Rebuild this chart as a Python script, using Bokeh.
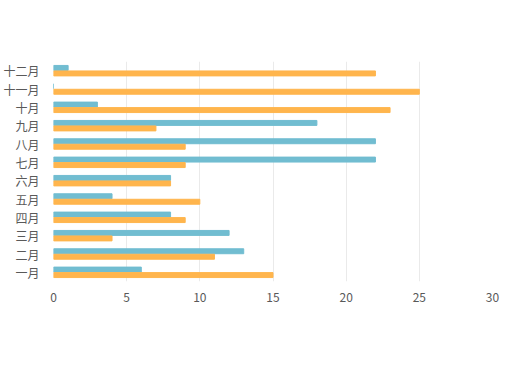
from bokeh.plotting import figure
from bokeh.models import (FactorRange, Range1d, Label, PolyAnnotation, Legend,
                          LegendItem, FixedTicker, ColumnDataSource)
from bokeh.transform import dodge
from bokeh.embed import file_html
from bokeh.resources import INLINE

months = ["一月", "二月", "三月", "四月", "五月", "六月",
          "七月", "八月", "九月", "十月", "十一月", "十二月"]
off_season = [6, 13, 12, 8, 4, 8, 22, 22, 18, 3, 0, 1]
peak_season = [15, 11, 4, 9, 10, 8, 9, 9, 7, 23, 25, 22]
series_names = ["淡季", "旺季"]
x_ticks = [0, 5, 10, 15, 20, 25, 30]
title_text = "销售淡旺季"
watermark_1 = "档口网"
watermark_2 = "www.dangkou.net"

TEAL = "#71bdd1"
ORANGE = "#ffb54d"
TXT = "#595959"
CJK = "Noto Sans CJK SC"

W, H = 502, 356
src = ColumnDataSource(dict(m=months, a=off_season, b=peak_season))

p = figure(width=W, height=H, y_range=FactorRange(*months), x_range=Range1d(0, 30),
           output_backend="svg", toolbar_location=None,
           min_border_left=51, min_border_right=10, min_border_top=61, min_border_bottom=75)
p.outline_line_color = None
p.background_fill_color = "white"
p.border_fill_color = "white"

r1 = p.hbar(y=dodge("m", 0.15, range=p.y_range), right="a", left=0, height=0.27,
            source=src, color=TEAL)
r2 = p.hbar(y=dodge("m", -0.15, range=p.y_range), right="b", left=0, height=0.27,
            source=src, color=ORANGE)

p.xaxis.ticker = FixedTicker(ticks=x_ticks)
for ax in (p.xaxis[0], p.yaxis[0]):
    ax.axis_line_color = None
    ax.major_tick_line_color = None
    ax.minor_tick_line_color = None
    ax.major_label_text_color = TXT
    ax.major_label_text_font = CJK
    ax.major_label_text_font_size = "12px"
p.xaxis.major_label_standoff = 5
p.yaxis.major_label_standoff = 8
p.xgrid.grid_line_color = "#eaeaea"
p.xgrid.grid_line_width = 1
p.ygrid.grid_line_color = None

legend = Legend(items=[LegendItem(label=series_names[0], renderers=[r1]),
                       LegendItem(label=series_names[1], renderers=[r2])],
                orientation="horizontal", location=(163, -68),
                glyph_width=6, glyph_height=6, label_height=14, label_standoff=6,
                spacing=7, padding=0, margin=0, border_line_color=None,
                background_fill_alpha=0, label_text_font=CJK,
                label_text_font_size="12px", label_text_color=TXT)
p.add_layout(legend, "center")

p.add_layout(Label(x=W / 2, y=14, x_units="canvas", y_units="canvas", text=title_text,
                   text_align="center", text_baseline="middle", text_font=CJK,
                   text_font_size="16px", text_color=TXT))
p.add_layout(Label(x=52, y=317, x_units="canvas", y_units="canvas", text=watermark_1,
                   text_align="left", text_baseline="middle", text_font=CJK,
                   text_font_size="15px", text_color=TXT))
p.add_layout(Label(x=11, y=337, x_units="canvas", y_units="canvas", text=watermark_2,
                   text_align="left", text_baseline="middle", text_font=CJK,
                   text_font_size="15px", text_color=TXT))

p.add_layout(PolyAnnotation(xs=[1.5, W - 1.5, W - 1.5, 1.5], ys=[1.5, 1.5, H - 1.5, H - 1.5],
                            xs_units="canvas", ys_units="canvas", fill_alpha=0,
                            line_color="#d9d9d9", line_width=3, line_dash="24 7 3 7"))

open("out.html", "w").write(file_html(p, INLINE))
